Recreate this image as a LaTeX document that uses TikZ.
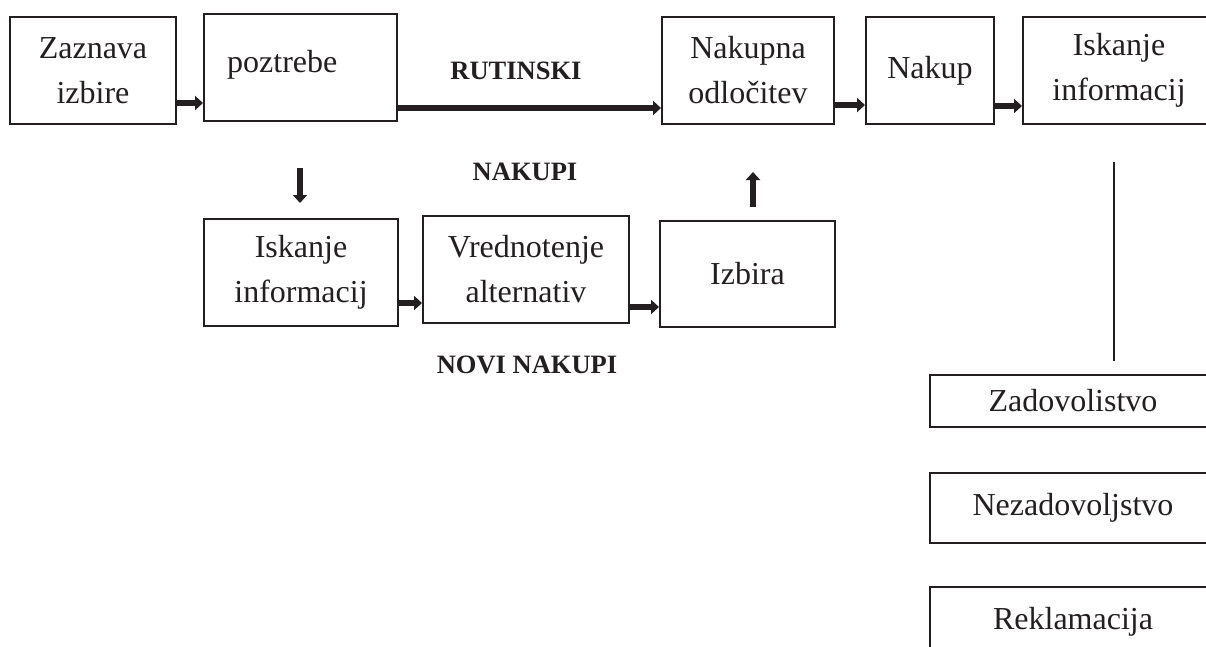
\documentclass[tikz,border=0pt]{standalone}
\usepackage{fontspec}
\setmainfont{Liberation Serif}
\usetikzlibrary{arrows.meta}
\definecolor{ink}{HTML}{231F20}
\tikzset{
  box/.style={draw=ink, line width=2pt, inner sep=0pt, align=center, text=ink,
    font=\fontsize{32pt}{45pt}\selectfont},
  lbl/.style={inner sep=0pt, text=ink, font=\fontsize{26.5pt}{30pt}\selectfont\bfseries},
  arr/.style={draw=ink, line width=6pt, -{Triangle[length=8pt,width=14pt]}},
  thin/.style={draw=ink, line width=2pt}
}
\begin{document}
\begin{tikzpicture}[x=1pt,y=-1pt]
\clip (0,0) rectangle (1206,646);
\fill[white] (0,0) rectangle (1206,646);
% top row
\node[box, minimum width=166pt, minimum height=107pt] (zaz) at (93,70.5) {Zaznava\\izbire};
\node[box, minimum width=193pt, minimum height=107pt] (poz) at (300.5,67.5) {};
\node[anchor=base west, inner sep=0pt, text=ink, font=\fontsize{32pt}{45pt}\selectfont] (pozt) at (227,72) {poztrebe};
\node[box, minimum width=172pt, minimum height=107pt] (nako) at (748,70.5) {Nakupna\\odločitev};
\node[box, minimum width=128pt, minimum height=107pt] (nak) at (930,70.5) {Nakup};
\node[box, minimum width=192pt, minimum height=107pt] (isk1) at (1119,70.5) {Iskanje\\informacij};
% lower row
\node[box, minimum width=194pt, minimum height=107pt] (isk2) at (301,272.5) {Iskanje\\informacij};
\node[box, minimum width=206pt, minimum height=107pt] (vred) at (526,269.5) {Vrednotenje\\alternativ};
\node[box, minimum width=175pt, minimum height=106pt] (izb) at (747.5,274) {Izbira};
% right column
\node[box, minimum width=286pt, minimum height=52pt] (zad) at (1073,401) {Zadovolistvo};
\node[box, minimum width=286pt, minimum height=70pt] (nez) at (1073,508) {Nezadovoljstvo};
\node[box, minimum width=286pt, minimum height=70pt] (rek) at (1073,622) {Reklamacija};
% labels
\node[lbl] (rut) at (516,71) {RUTINSKI};
\node[lbl] (nkp) at (525,172) {NAKUPI};
\node[lbl] (nov) at (527,365) {NOVI NAKUPI};
% horizontal arrows
\draw[arr] ([yshift=-32.5pt]zaz.east) -- ([yshift=-32.5pt]zaz.east -| poz.west);
\draw[arr] ([yshift=-40.5pt]poz.east) -- ([yshift=-40.5pt]poz.east -| nako.west);
\draw[arr] ([yshift=-34.5pt]nako.east) -- ([yshift=-34.5pt]nako.east -| nak.west);
\draw[arr] ([yshift=-35.5pt]nak.east) -- ([yshift=-35.5pt]nak.east -| isk1.west);
\draw[arr] ([yshift=-30.5pt]isk2.east) -- ([yshift=-30.5pt]isk2.east -| vred.west);
\draw[arr] ([yshift=-37.5pt]vred.east) -- ([yshift=-37.5pt]vred.east -| izb.west);
% vertical arrows
\coordinate (d1) at (300,168);
\coordinate (d2) at (300,203);
\draw[arr] (d1) -- (d2);
\coordinate (u1) at (753,207);
\coordinate (u2) at (753,172);
\draw[arr] (u1) -- (u2);
% vertical line
\coordinate (v1) at (1114,162);
\coordinate (v2) at (1114,361);
\draw[thin] (v1) -- (v2);
\end{tikzpicture}
\end{document}
